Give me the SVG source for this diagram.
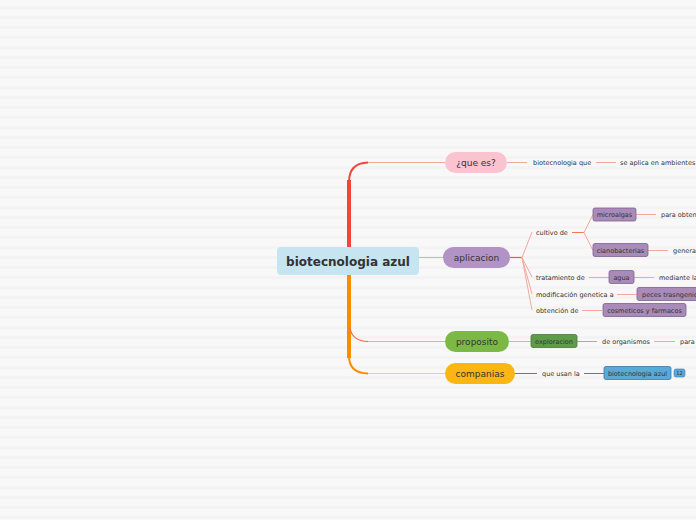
<svg xmlns="http://www.w3.org/2000/svg" width="696" height="520" viewBox="0 0 696 520">
<defs>
<pattern id="bg" width="10" height="10" patternUnits="userSpaceOnUse">
<rect width="10" height="10" fill="#f8f8f8"/>
<rect y="6" width="10" height="3" fill="#f3f3f3"/>
</pattern>
</defs>
<style>
text{font-family:"DejaVu Sans","Liberation Sans",sans-serif;fill:#333}
.t{font-size:6.5px}
.m{font-size:9px;text-anchor:middle}
.bx{font-size:6.5px;text-anchor:middle}
.ln{fill:none;stroke:#f5a89c;stroke-width:1}
.lo{fill:none;stroke:#ee7a5a;stroke-width:1}
.lg{fill:none;stroke:#777;stroke-width:1}
.pb{fill:#a88bb8;stroke:#7d5f90;stroke-width:0.8}
</style>
<rect width="696" height="520" fill="url(#bg)"/>
<g id="connectors">
<path d="M349,250 L349,180" stroke="#f2463a" stroke-width="4" fill="none"/>
<path d="M349,182 Q349,163 368,162.5" stroke="#f2463a" stroke-width="2" fill="none"/>
<path d="M368,162.5 L445,162.5" stroke="#f5a89c" stroke-width="1" fill="none"/>
<path d="M349,275 L349,358" stroke="#fb8c00" stroke-width="4" fill="none"/>
<path d="M349,356 Q349,373 368,373.5" stroke="#fb8c00" stroke-width="2" fill="none"/>
<path d="M368,373.5 L445,373.5" stroke="#fcc890" stroke-width="1" fill="none"/>
<path d="M350,328 Q352,341 368,341.5" stroke="#f06a4a" stroke-width="1.2" fill="none"/>
<path d="M368,341.5 L445,341.5" stroke="#f5a89c" stroke-width="1" fill="none"/>
<path d="M419,257.5 L443,257.5" class="ln"/>
<path d="M507,162.5 L527,162.5 M596,162.5 L616,162.5" class="ln"/>
<path d="M510,257.5 L522,257.5" stroke="#e8603c" stroke-width="1.2" fill="none"/>
<path d="M522,257.5 L532,232 M522,257.5 L532,277 M522,257.5 L532,294 M522,257.5 L532,310" class="ln"/>
<path d="M572,232.5 L584,232.5" class="lo"/>
<path d="M584,232.5 L593,214.5 M584,232.5 L593,250.5" class="ln"/>
<path d="M636,214.5 L656,214.5 M648,250.5 L668,250.5" class="ln"/>
<path d="M589,277.5 L609,277.5 M634,277.5 L654,277.5" class="ln"/>
<path d="M617,294.5 L637,294.5 M582,310.5 L602,310.5" class="ln"/>
<path d="M509,341.5 L531,341.5" class="ln"/>
<path d="M577,341.5 L597,341.5" stroke="#aaa" stroke-width="1" fill="none"/>
<path d="M654,341.5 L675,341.5" class="ln"/>
<path d="M515,373.5 L537,373.5 M584,373.5 L604,373.5" class="lg"/>
</g>
<g id="root">
<rect x="277" y="247" width="142" height="28" rx="4" fill="#c6e5f0"/>
<text x="348" y="266" font-size="12" font-weight="bold" text-anchor="middle">biotecnologia azul</text>
</g>
<g id="que-es">
<rect x="445" y="152" width="62" height="21" rx="10.5" fill="#f9c3cf"/>
<text class="m" x="476" y="165.5">¿que es?</text>
</g>
<g id="aplicacion">
<rect x="443" y="247" width="67" height="21" rx="10.5" fill="#b193c6"/>
<text class="m" x="476.5" y="260.5">aplicacion</text>
</g>
<g id="proposito">
<rect x="445" y="331" width="64" height="21" rx="10.5" fill="#7cb944"/>
<text class="m" x="477" y="344.5">proposito</text>
</g>
<g id="companias">
<rect x="445" y="363" width="70" height="21" rx="10.5" fill="#fbb614"/>
<text class="m" x="480" y="376.5">companias</text>
</g>
<g id="biotecnologia-que"><text class="t" x="533" y="165">biotecnologia que</text></g>
<g id="se-aplica"><text class="t" x="620" y="165">se aplica en ambientes</text></g>
<g id="cultivo"><text class="t" x="536" y="235">cultivo de</text></g>
<g id="microalgas">
<rect class="pb" x="593" y="208" width="43" height="13" rx="2"/>
<text class="bx" x="614.5" y="217">microalgas</text>
</g>
<g id="para-obten"><text class="t" x="661" y="217">para obten</text></g>
<g id="cianobacterias">
<rect class="pb" x="593" y="243.5" width="55" height="13" rx="2"/>
<text class="bx" x="620.5" y="252.5">cianobacterias</text>
</g>
<g id="genera"><text class="t" x="673" y="253">genera</text></g>
<g id="tratamiento"><text class="t" x="536" y="280">tratamiento de</text></g>
<g id="agua">
<rect class="pb" x="609" y="270.5" width="25" height="13" rx="2"/>
<text class="bx" x="621.5" y="279.5">agua</text>
</g>
<g id="mediante"><text class="t" x="659" y="280">mediante la</text></g>
<g id="modificacion"><text class="t" x="536" y="297">modificación genetica a</text></g>
<g id="peces">
<rect class="pb" x="637" y="287.5" width="64" height="13" rx="2"/>
<text class="t" x="642" y="296.5">peces trasngenicos</text>
</g>
<g id="obtencion"><text class="t" x="536" y="313">obtención de</text></g>
<g id="cosmeticos">
<rect class="pb" x="603" y="303.5" width="83" height="13" rx="2"/>
<text class="bx" x="644.5" y="312.5">cosmeticos y farmacos</text>
</g>
<g id="exploracion">
<rect x="531" y="334.5" width="46" height="13" rx="2" fill="#5e9c4a" stroke="#467a36" stroke-width="0.8"/>
<text class="bx" x="554" y="343.5">exploracion</text>
</g>
<g id="de-organismos"><text class="t" x="602" y="344">de organismos</text></g>
<g id="para"><text class="t" x="680" y="344">para</text></g>
<g id="que-usan"><text class="t" x="542" y="376">que usan la</text></g>
<g id="bio-azul-link">
<rect x="604" y="366.5" width="67" height="13" rx="2" fill="#5aaad8" stroke="#3a78a8" stroke-width="0.8"/>
<text class="bx" x="637.5" y="375.5">biotecnologia azul</text>
<rect x="674" y="369" width="11" height="8" rx="2" fill="#5aaad8" stroke="#3a78a8" stroke-width="0.6"/>
<text x="679.5" y="375" font-size="5" text-anchor="middle">12</text>
</g>
</svg>
